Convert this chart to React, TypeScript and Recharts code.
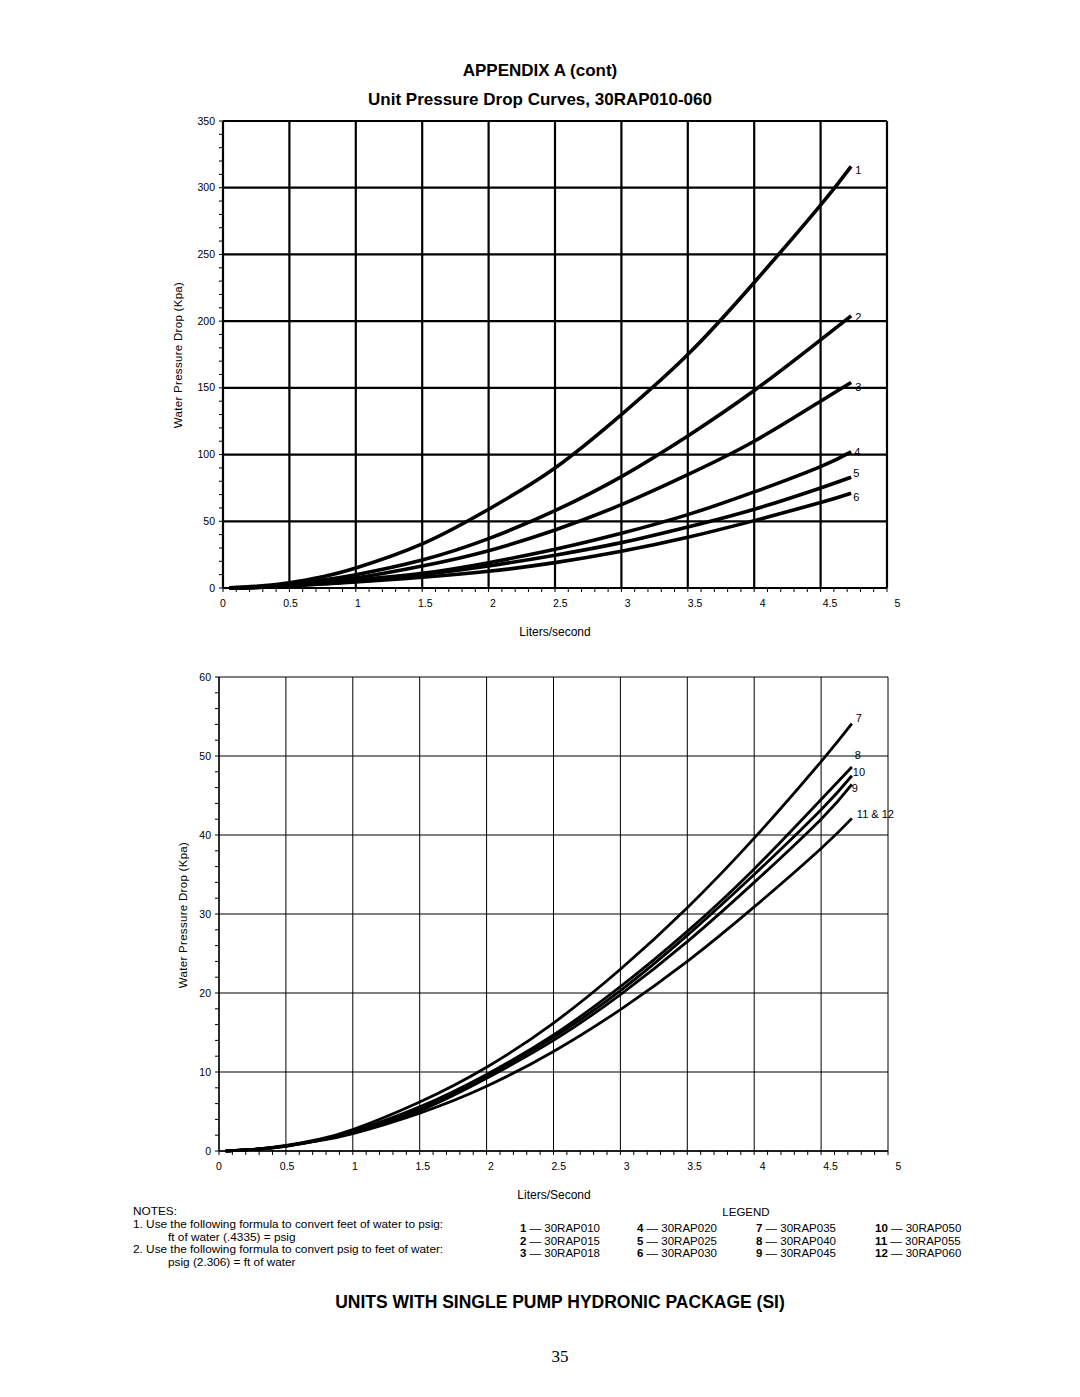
import React from 'react';
import { LineChart, Line, XAxis, YAxis, ReferenceLine } from 'recharts';

// ---------- data: top chart (units 1-6) ----------
const flowTop = [0.05, 0.25, 0.5, 0.75, 1, 1.5, 2, 2.5, 3, 3.5, 4, 4.5, 4.73];
const unit1 = [0.2, 1.2, 4, 8.5, 15, 33, 59, 90, 130, 175, 229, 287, 316];
const unit2 = [0.1, 0.8, 3, 6, 10, 21, 37, 58, 83.5, 114, 148, 186, 204];
const unit3 = [0.1, 0.6, 2.2, 4.5, 7.5, 16.5, 28, 43.5, 62.5, 85, 110, 140, 154];
const unit4 = [0.1, 0.5, 2, 3.8, 6, 11, 19, 29, 41, 55, 72, 91, 102];
const unit5 = [0.1, 0.5, 1.8, 3.3, 5, 10, 16.5, 24.6, 34, 45.7, 59, 75, 83];
const unit6 = [0.1, 0.4, 1.6, 3, 4.5, 8, 12.5, 19, 27.5, 38, 50.5, 64, 71];

// ---------- data: bottom chart (units 7-12) ----------
const flowBottom = [0.05, 0.25, 0.5, 0.75, 1, 1.5, 2, 2.5, 3, 3.5, 4, 4.5, 4.73];
const unit7 = [0, 0.2, 0.7, 1.5, 2.7, 6.2, 10.6, 16.2, 23, 30.8, 39.6, 49.3, 54.1];
const unit8 = [0, 0.2, 0.65, 1.4, 2.5, 5.6, 9.7, 14.7, 20.8, 27.8, 35.7, 44.5, 48.6];
const unit10 = [0, 0.2, 0.65, 1.4, 2.4, 5.3, 9.5, 14.4, 20.3, 27.3, 35, 43.2, 47.5];
const unit9 = [0, 0.2, 0.6, 1.35, 2.3, 5.1, 9.2, 14, 19.8, 26.5, 34, 42, 46.4];
const unit11and12 = [0, 0.2, 0.6, 1.3, 2.2, 4.8, 8.2, 12.6, 17.9, 24, 30.9, 38.3, 42.1];

// ---------- ticks ----------
const xMajorTicks = [0, 0.5, 1, 1.5, 2, 2.5, 3, 3.5, 4, 4.5, 5];
const yMajorTop = [0, 50, 100, 150, 200, 250, 300, 350];
const yMajorBottom = [0, 10, 20, 30, 40, 50, 60];
const xMinorTicks = Array.from({ length: 51 }, (_, i) => i / 10);
const yMinorTop = Array.from({ length: 36 }, (_, i) => i * 10);
const yMinorBottom = Array.from({ length: 31 }, (_, i) => i * 2);

// ---------- labels ----------
const topNames = ['1', '2', '3', '4', '5', '6'];
const bottomNames = ['7', '8', '10', '9', '11 & 12'];
const legendNums = ['1', '2', '3', '4', '5', '6', '7', '8', '9', '10', '11', '12'];
const legendUnits = [
  '30RAP010', '30RAP015', '30RAP018', '30RAP020', '30RAP025', '30RAP030',
  '30RAP035', '30RAP040', '30RAP045', '30RAP050', '30RAP055', '30RAP060',
];

const topSeries = [unit1, unit2, unit3, unit4, unit5, unit6];
const bottomSeries = [unit7, unit8, unit10, unit9, unit11and12];

const topLabelOffsets = [[4, 8], [4, 5], [4, 8], [3, 4], [2, 0], [2, 8]];
const bottomLabelOffsets = [[4, -2], [3, -8], [1, 0], [0, 8], [5, 0]];

const topData = flowTop.map((f, i) => {
  const row: any = { flow: f };
  topSeries.forEach((s, k) => (row['s' + k] = s[i]));
  return row;
});
const bottomData = flowBottom.map((f, i) => {
  const row: any = { flow: f };
  bottomSeries.forEach((s, k) => (row['s' + k] = s[i]));
  return row;
});

const SANS = '"Liberation Sans", Arial, Helvetica, sans-serif';

const isMultiple = (v: number, step: number) => Math.abs(v / step - Math.round(v / step)) < 1e-6;

const XTick = (props: any) => {
  const { x, y, payload } = props;
  const v = payload.value;
  if (!isMultiple(v, 0.5)) return <g />;
  return (
    <text x={x + v * 2.1} y={y + 11} textAnchor="middle" fontSize={10.5} fontFamily={SANS} fill="#000">
      {String(v)}
    </text>
  );
};

const makeYTick = (step: number) => (props: any) => {
  const { x, y, payload } = props;
  const v = payload.value;
  if (!isMultiple(v, step)) return <g />;
  return (
    <text x={x} y={y + 3.5} textAnchor="end" fontSize={10.5} fontFamily={SANS} fill="#000">
      {String(v)}
    </text>
  );
};

const makeEndDot = (text: string, dx: number, dy: number, last: number) => (p: any) => {
  if (p.index !== last) return <g key={'d' + p.index} />;
  return (
    <text key={'d' + p.index} x={p.cx + dx} y={p.cy + dy} fontSize={11} fontFamily={SANS} fill="#000">
      {text}
    </text>
  );
};

const Centered = ({ cx, cy, children, style }: any) => (
  <div
    style={{
      position: 'absolute',
      left: cx - 300,
      top: cy - 10,
      width: 600,
      height: 20,
      lineHeight: '20px',
      textAlign: 'center',
      fontFamily: SANS,
      whiteSpace: 'nowrap',
      ...style,
    }}
  >
    {children}
  </div>
);

const Rotated = ({ cx, cy, children }: any) => (
  <div
    style={{
      position: 'absolute',
      left: cx - 120,
      top: cy - 8,
      width: 240,
      height: 16,
      lineHeight: '16px',
      textAlign: 'center',
      fontFamily: SANS,
      fontSize: 11.5,
      letterSpacing: 0.3,
      transform: 'rotate(-90deg)',
      whiteSpace: 'nowrap',
    }}
  >
    {children}
  </div>
);

const TopChart = () => (
  <div style={{ position: 'absolute', left: 140, top: 100 }}>
    <LineChart width={780} height={560} data={topData} margin={{ top: 21, right: 33, bottom: 42, left: 38 }}>
      {yMajorTop.map((v) => (
        <ReferenceLine key={'hy' + v} y={v} stroke="#000" strokeWidth={2.2} />
      ))}
      {xMajorTicks.map((v) => (
        <ReferenceLine key={'vx' + v} x={v} stroke="#000" strokeWidth={2.2} />
      ))}
      <XAxis
        dataKey="flow"
        type="number"
        domain={[0, 5]}
        ticks={xMinorTicks}
        interval={0}
        tickSize={4}
        tickMargin={4}
        height={30}
        axisLine={{ stroke: '#000', strokeWidth: 2 }}
        tickLine={{ stroke: '#000', strokeWidth: 1 }}
        tick={<XTick />}
      />
      <YAxis
        type="number"
        domain={[0, 350]}
        ticks={yMinorTop}
        interval={0}
        width={45}
        tickSize={4}
        tickMargin={4}
        axisLine={{ stroke: '#000', strokeWidth: 2 }}
        tickLine={{ stroke: '#000', strokeWidth: 1 }}
        tick={makeYTick(50)}
      />
      {topNames.map((n, k) => (
        <Line
          key={'t' + k}
          dataKey={'s' + k}
          type="natural"
          stroke="#000"
          strokeWidth={3.6}
          isAnimationActive={false}
          dot={makeEndDot(n, topLabelOffsets[k][0], topLabelOffsets[k][1], flowTop.length - 1)}
          activeDot={false}
        />
      ))}
    </LineChart>
  </div>
);

const BottomChart = () => (
  <div style={{ position: 'absolute', left: 140, top: 660 }}>
    <LineChart width={780} height={560} data={bottomData} margin={{ top: 17, right: 32, bottom: 39, left: 34 }}>
      {yMajorBottom.map((v) => (
        <ReferenceLine key={'hy' + v} y={v} stroke="#000" strokeWidth={1} />
      ))}
      {xMajorTicks.map((v) => (
        <ReferenceLine key={'vx' + v} x={v} stroke="#000" strokeWidth={1} />
      ))}
      <XAxis
        dataKey="flow"
        type="number"
        domain={[0, 5]}
        ticks={xMinorTicks}
        interval={0}
        tickSize={4}
        tickMargin={4}
        height={30}
        axisLine={{ stroke: '#000', strokeWidth: 1.3 }}
        tickLine={{ stroke: '#000', strokeWidth: 1 }}
        tick={<XTick />}
      />
      <YAxis
        type="number"
        domain={[0, 60]}
        ticks={yMinorBottom}
        interval={0}
        width={45}
        tickSize={4}
        tickMargin={4}
        axisLine={{ stroke: '#000', strokeWidth: 1.3 }}
        tickLine={{ stroke: '#000', strokeWidth: 1 }}
        tick={makeYTick(10)}
      />
      {bottomNames.map((n, k) => (
        <Line
          key={'b' + k}
          dataKey={'s' + k}
          type="natural"
          stroke="#000"
          strokeWidth={2.8}
          isAnimationActive={false}
          dot={makeEndDot(n, bottomLabelOffsets[k][0], bottomLabelOffsets[k][1], flowBottom.length - 1)}
          activeDot={false}
        />
      ))}
    </LineChart>
  </div>
);

const legendCols = [520, 637, 756, 875];
const legendRows = [1228, 1240.5, 1253];

export default function App() {
  return (
    <div style={{ position: 'absolute', left: 0, top: 0, width: 1080, height: 1397, background: '#fff', color: '#000' }}>
      <Centered cx={540} cy={71} style={{ fontSize: 17, fontWeight: 'bold' }}>APPENDIX A (cont)</Centered>
      <Centered cx={540} cy={100} style={{ fontSize: 17, fontWeight: 'bold' }}>
        Unit Pressure Drop Curves, 30RAP010-060
      </Centered>

      <TopChart />
      <Rotated cx={178} cy={355}>Water Pressure Drop (Kpa)</Rotated>
      <Centered cx={555} cy={632} style={{ fontSize: 12 }}>Liters/second</Centered>

      <BottomChart />
      <Rotated cx={183} cy={915}>Water Pressure Drop (Kpa)</Rotated>
      <Centered cx={554} cy={1195} style={{ fontSize: 12 }}>Liters/Second</Centered>

      <div style={{ position: 'absolute', left: 133, top: 1205, fontFamily: SANS, fontSize: 11.8, lineHeight: '12.8px', whiteSpace: 'nowrap' }}>
        <div>NOTES:</div>
        <div>1. Use the following formula to convert feet of water to psig:</div>
        <div style={{ paddingLeft: 35 }}>ft of water (.4335) = psig</div>
        <div>2. Use the following formula to convert psig to feet of water:</div>
        <div style={{ paddingLeft: 35 }}>psig (2.306) = ft of water</div>
      </div>

      <Centered cx={746} cy={1212} style={{ fontSize: 11.5 }}>LEGEND</Centered>
      {legendNums.map((n, i) => {
        const col = Math.floor(i / 3);
        const row = i % 3;
        return (
          <div
            key={'lg' + n}
            style={{
              position: 'absolute',
              left: legendCols[col],
              top: legendRows[row] - 7,
              height: 14,
              lineHeight: '14px',
              fontFamily: SANS,
              fontSize: 11.5,
              whiteSpace: 'nowrap',
            }}
          >
            <b>{n}</b> — {legendUnits[i]}
          </div>
        );
      })}

      <Centered cx={560} cy={1302} style={{ fontSize: 17.5, fontWeight: 'bold' }}>
        UNITS WITH SINGLE PUMP HYDRONIC PACKAGE (SI)
      </Centered>
      <Centered cx={560} cy={1357} style={{ fontSize: 17, fontFamily: '"Liberation Serif", "Times New Roman", serif' }}>
        35
      </Centered>
    </div>
  );
}
